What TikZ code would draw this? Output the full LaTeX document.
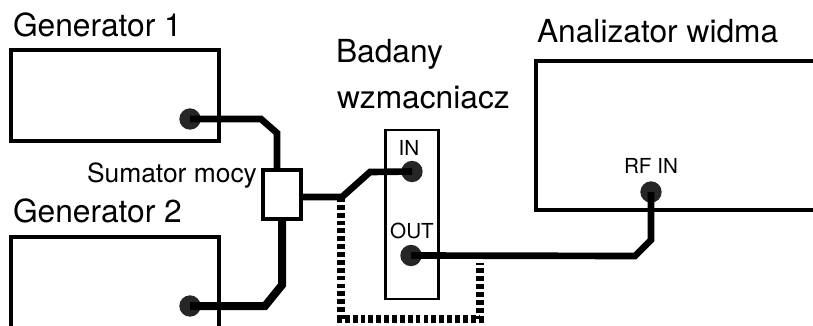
\documentclass[tikz,border=0pt]{standalone}
\usepackage{fontspec}
\setmainfont{TeX Gyre Heros}
\usetikzlibrary{positioning,calc}
\begin{document}
\begin{tikzpicture}[x=0.75pt,y=-0.75pt,line join=miter,
  every node/.append style={inner sep=0pt,outer sep=0pt}]
  \tikzstyle{device} = [draw=black,line width=2.4pt,fill=white,rectangle]
  \tikzstyle{port} = [circle,fill=black!85,minimum size=16pt]
  \tikzstyle{bigword} = [font=\fontsize{23.8}{26}\selectfont,anchor=base west]
  \tikzstyle{midword} = [font=\fontsize{19.8}{22}\selectfont,anchor=base west]
  \tikzstyle{smallword} = [font=\fontsize{15.5}{18}\selectfont,anchor=base]
  \tikzstyle{cable} = [line width=5pt]
  \tikzstyle{loopback} = [line width=5.6pt,dash pattern=on 3.6pt off 2.3pt]
  \useasboundingbox (0,0) rectangle (813,325);
  \clip (0,0) rectangle (813,325);
  % instruments
  \node (gen1) [device,minimum width=156pt,minimum height=68.2pt] at (115,95.5) {};
  \node (gen2) [device,minimum width=156pt,minimum height=120pt] at (115,317) {};
  \node (analyzer) [device,minimum width=300pt,minimum height=111.7pt] at (736,135.5) {};
  \node (dut) [device,line width=2pt,minimum width=40pt,minimum height=126.7pt] at (412,214.5) {};
  \node (sumator) [device,minimum width=28.5pt,minimum height=36.7pt] at (282,194.5) {};
  % sockets
  \node (g1port) [port] at (190,119) {};
  \node (g2port) [port] at (190,306) {};
  \node (inport) [port] at (412,171.5) {};
  \node (outport) [port] at (411,255.5) {};
  \node (rfport) [port] at (651,192) {};
  % labels
  \node (g1label) [bigword] at (13,36) {Generator 1};
  \node (g2label) [bigword] at (13,222) {Generator 2};
  \node (dutlabel1) [bigword] at (336,62) {Badany};
  \node (dutlabel2) [bigword] at (337,108) {wzmacniacz};
  \node (analabel) [bigword] at (537,42) {Analizator widma};
  \node (sumlabel) [midword] at (87,182) {Sumator mocy};
  \node (inlabel) [smallword] at (409,155) {IN};
  \node (outlabel) [smallword] at (412,238) {OUT};
  \node (rflabel) [smallword] at (651,173) {RF IN};
  % cables
  \coordinate (g1bend) at (261,119);
  \coordinate (g1drop) at (277,133);
  \coordinate (g2bend) at (265,306);
  \coordinate (g2rise) at (282,285);
  \coordinate (splitter) at (342,197);
  \coordinate (inbend) at (370,172);
  \coordinate (outbend) at (635,256);
  \coordinate (rfbend) at (651,240);
  \coordinate (loopa) at (341,319);
  \coordinate (loopb) at (480,319);
  \coordinate (loopend) at (480,263);
  \draw[cable] (g1port.center) -- (g1bend) -- (g1drop) -- (g1drop |- sumator.north);
  \draw[cable,line width=6pt] (g2port.center) -- (g2bend) -- (g2rise) -- (g2rise |- sumator.south);
  \draw[cable] (sumator.east |- splitter) -- (splitter) -- (inbend) -- (inport.center);
  \draw[cable] (outport.center) -- (outbend) -- (rfbend) -- (rfport.center);
  \draw[loopback] (splitter -| loopa) -- (loopa) -- (loopb) -- (loopend);
\end{tikzpicture}
\end{document}
